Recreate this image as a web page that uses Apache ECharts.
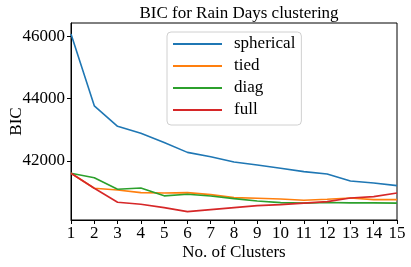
<!DOCTYPE html>
<html>
<head>
<meta charset="utf-8">
<script src="https://cdn.jsdelivr.net/npm/echarts@6/dist/echarts.min.js"></script>
<style>html,body{margin:0;padding:0;background:#fff}#c{width:411px;height:267px}</style>
</head>
<body>
<div id="c"></div>
<script>
const clusters = [1,2,3,4,5,6,7,8,9,10,11,12,13,14,15];
const spherical = [46070,43768,43111,42889,42594,42276,42137,41968,41872,41766,41659,41584,41360,41296,41210];
const tied = [41606,41126,41072,40986,40976,40986,40922,40826,40806,40784,40742,40774,40816,40762,40762];
const diag = [41606,41466,41094,41136,40883,40934,40880,40794,40720,40666,40650,40672,40660,40660,40650];
const full = [41606,41126,40678,40614,40506,40378,40442,40506,40570,40602,40650,40698,40816,40858,40976];
const yTicks = [42000,44000,46000];
const seriesNames = ['spherical','tied','diag','full'];
const colors = ['#1f77b4','#ff7f0e','#2ca02c','#d62728'];
const FONT = 'Liberation Serif';

const all = [spherical, tied, diag, full];
const chart = echarts.init(document.getElementById('c'), null, {renderer:'canvas'});
chart.setOption({
  animation: false,
  backgroundColor: '#fff',
  textStyle: {fontFamily: FONT},
  title: {
    text: 'BIC for Rain Days clustering',
    left: 234, top: 0, textAlign: 'center',
    textStyle: {fontFamily: FONT, fontSize: 17, fontWeight: 'normal', color: '#000'}
  },
  grid: {left: 71, right: 14, top: 23, bottom: 47, containLabel: false, outerBoundsMode: 'none',
         show: true, borderColor: '#000', borderWidth: 1, backgroundColor: 'transparent'},
  legend: {
    orient: 'vertical', left: 167, top: 32,
    data: seriesNames,
    icon: 'rect', itemWidth: 49, itemHeight: 2, itemGap: 2,
    padding: [2, 6, 5, 6],
    backgroundColor: '#fff', borderColor: '#d0d0d0', borderWidth: 1, borderRadius: 4,
    textStyle: {fontFamily: FONT, fontSize: 17, color: '#000', lineHeight: 20, padding: [0,0,0,7]}
  },
  xAxis: {
    type: 'value', min: 1, max: 15, interval: 1,
    name: 'No. of Clusters', nameLocation: 'middle', nameGap: 24, nameMoveOverlap: false,
    nameTextStyle: {fontFamily: FONT, fontSize: 17, color: '#000'},
    axisLine: {show: true, onZero: false, lineStyle: {color: '#000', width: 1}},
    axisTick: {show: true, length: 4, lineStyle: {color: '#000'}},
    axisLabel: {fontFamily: FONT, fontSize: 17, color: '#000', margin: 5, formatter: v => String(v)},
    splitLine: {show: false}
  },
  yAxis: {
    type: 'value', min: 40110, max: 46420,
    name: 'BIC', nameLocation: 'middle', nameGap: 46, nameRotate: 90, nameMoveOverlap: false,
    nameTextStyle: {fontFamily: FONT, fontSize: 17, color: '#000'},
    axisLine: {show: true, lineStyle: {color: '#000', width: 1}},
    axisTick: {show: true, length: 4, lineStyle: {color: '#000'}, customValues: yTicks},
    axisLabel: {fontFamily: FONT, fontSize: 17, color: '#000', margin: 6, customValues: yTicks, formatter: v => String(v)},
    splitLine: {show: false}
  },
  series: seriesNames.map((n, i) => ({
    name: n, type: 'line', symbol: 'none', showSymbol: false,
    data: clusters.map((c, j) => [c, all[i][j]]),
    lineStyle: {color: colors[i], width: 1.6},
    itemStyle: {color: colors[i]}
  }))
});
</script>
</body>
</html>
